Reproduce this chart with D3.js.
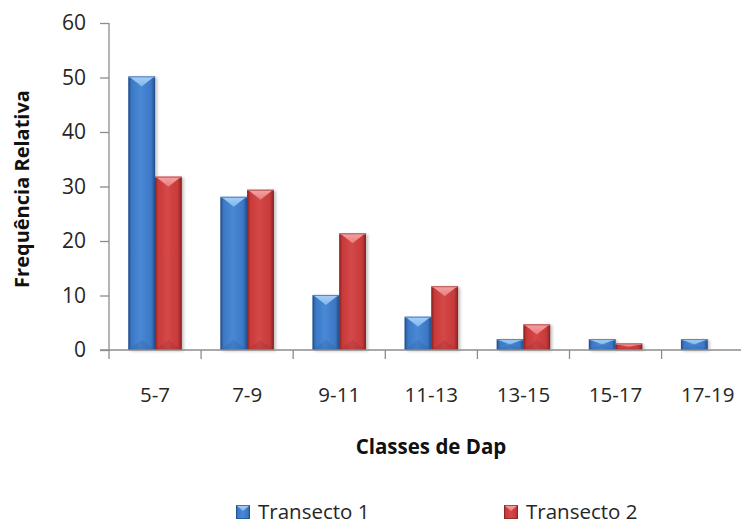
<!DOCTYPE html>
<html>
<head>
<meta charset="utf-8">
<script src="https://cdn.jsdelivr.net/npm/d3@7"></script>
<style>
  html, body { margin: 0; padding: 0; background: #fff; }
  svg { display: block; }
  text { font-family: "Open Sans", sans-serif; }
</style>
</head>
<body>
<svg id="chart" width="741" height="524"></svg>
<script>
// Diameter classes (Dap) and relative frequency for each transect
const categories = ["5-7", "7-9", "9-11", "11-13", "13-15", "15-17", "17-19"];
const seriesNames = ["Transecto 1", "Transecto 2"];
const transecto1 = [50.2, 28.1, 10.1, 6.1, 2.0, 2.0, 2.0];
const transecto2 = [31.8, 29.4, 21.4, 11.7, 4.7, 1.2, 0];
const yTicks = [0, 10, 20, 30, 40, 50, 60];

const seriesValues = [transecto1, transecto2];
const palette = {
  "Transecto 1": { dark: "#24508c", mid: "#3b78c6", light: "#4a88d4", top: "#7fb6ee", topEdge: "#a8d0f6" },
  "Transecto 2": { dark: "#8a2424", mid: "#c83a3a", light: "#d44848", top: "#ec7a7a", topEdge: "#f4a4a4" }
};

const svg = d3.select("#chart");
const defs = svg.append("defs");

// Horizontal gradients give the bars a rounded, bevelled face
seriesNames.forEach((s, i) => {
  const c = palette[s];
  const g = defs.append("linearGradient").attr("id", "face" + i)
    .attr("x1", "0").attr("x2", "1").attr("y1", "0").attr("y2", "0");
  g.append("stop").attr("offset", "0").attr("stop-color", c.dark);
  g.append("stop").attr("offset", "0.12").attr("stop-color", c.mid);
  g.append("stop").attr("offset", "0.45").attr("stop-color", c.light);
  g.append("stop").attr("offset", "0.85").attr("stop-color", c.mid);
  g.append("stop").attr("offset", "1").attr("stop-color", c.dark);
  const t = defs.append("linearGradient").attr("id", "top" + i)
    .attr("x1", "0").attr("x2", "0").attr("y1", "0").attr("y2", "1");
  t.append("stop").attr("offset", "0").attr("stop-color", c.topEdge);
  t.append("stop").attr("offset", "1").attr("stop-color", c.top);
});

const shadow = defs.append("filter").attr("id", "shadow")
  .attr("x", "-20%").attr("y", "-20%").attr("width", "150%").attr("height", "150%");
shadow.append("feDropShadow").attr("dx", 2).attr("dy", 1).attr("stdDeviation", 1.5)
  .attr("flood-color", "#000").attr("flood-opacity", 0.25);

// Scales: the plot area runs past the right edge of the canvas
const y = d3.scaleLinear().domain([0, 60]).range([350, 23]);
const x0 = d3.scaleBand().domain(categories).range([109, 753.7]).padding(0);
const x1 = d3.scaleBand().domain(seriesNames).range([0, x0.bandwidth()])
  .paddingInner(0).paddingOuter(0.725);

const axisColor = "#8c8c8c";

// Y axis
const yAxis = svg.append("g").attr("transform", "translate(109,0)")
  .call(d3.axisLeft(y).tickValues(yTicks).tickSize(9).tickPadding(14).tickSizeOuter(0));
yAxis.select(".domain").remove();
yAxis.append("line").attr("x1", 0).attr("x2", 0).attr("y1", y(60)).attr("y2", 359)
  .attr("stroke", axisColor).attr("stroke-width", 1.3);
yAxis.selectAll(".tick line").attr("stroke", axisColor).attr("stroke-width", 1.3);
yAxis.selectAll(".tick text").attr("fill", "#262626").attr("font-size", 21)
  .style("font-family", "'Open Sans', sans-serif");

// X axis with category boundary ticks
const xAxis = svg.append("g").attr("transform", "translate(0,350)");
xAxis.append("line").attr("x1", 100).attr("x2", 741).attr("y1", 0).attr("y2", 0)
  .attr("stroke", axisColor).attr("stroke-width", 1.6);
xAxis.selectAll("line.bound").data(categories.slice(1)).join("line")
  .attr("class", "bound")
  .attr("x1", d => x0(d)).attr("x2", d => x0(d)).attr("y1", 0).attr("y2", 9)
  .attr("stroke", axisColor).attr("stroke-width", 1.3);
xAxis.selectAll("text.cat").data(categories).join("text")
  .attr("class", "cat")
  .attr("x", d => x0(d) + x0.bandwidth() / 2).attr("y", 52)
  .attr("text-anchor", "middle").attr("font-size", 20.5).attr("fill", "#262626")
  .text(d => d);

// Bars
function drawBar(g, bx, by, w, h, i) {
  if (h <= 0) return;
  const b = Math.min(10, h / 2);
  g.append("rect").attr("x", bx).attr("y", by).attr("width", w).attr("height", h)
    .attr("fill", `url(#face${i})`).attr("filter", "url(#shadow)");
  g.append("polygon")
    .attr("points", [[bx, by], [bx + w, by], [bx + w - 2, by + 1], [bx + w / 2, by + b], [bx + 2, by + 1]].map(p => p.join(",")).join(" "))
    .attr("fill", `url(#top${i})`);
  g.append("rect").attr("x", bx).attr("y", by).attr("width", w).attr("height", 1.2)
    .attr("fill", palette[seriesNames[i]].topEdge);
  g.append("polygon")
    .attr("points", [[bx, by + h], [bx + w, by + h], [bx + w / 2, by + h - b]].map(p => p.join(",")).join(" "))
    .attr("fill", "#000").attr("opacity", 0.08);
  g.append("rect").attr("x", bx + 0.5).attr("y", by + 0.5).attr("width", w - 1).attr("height", h - 1)
    .attr("fill", "none").attr("stroke", palette[seriesNames[i]].dark).attr("stroke-opacity", 0.6);
}

const barLayer = svg.append("g");
categories.forEach((cat, ci) => {
  seriesNames.forEach((s, si) => {
    const v = seriesValues[si][ci];
    const bx = x0(cat) + x1(s);
    drawBar(barLayer, bx, y(v), x1.bandwidth(), y(0) - y(v), si);
  });
});
// Keep the baseline on top of the bar bottoms
xAxis.raise();

// Axis titles
svg.append("text").attr("x", 431).attr("y", 454).attr("text-anchor", "middle")
  .attr("font-size", 20.5).attr("font-weight", "bold").attr("fill", "#111")
  .text("Classes de Dap");
svg.append("text").attr("transform", "translate(29,189) rotate(-90)")
  .attr("text-anchor", "middle").attr("font-size", 20).attr("font-weight", "bold").attr("fill", "#111")
  .text("Frequência Relativa");

// Legend
const legendX = [236, 504];
const legend = svg.selectAll("g.legend").data(seriesNames).join("g")
  .attr("class", "legend")
  .attr("transform", (d, i) => `translate(${legendX[i]},505)`);
legend.each(function (d, i) {
  const g = d3.select(this);
  g.append("rect").attr("width", 14).attr("height", 14).attr("fill", `url(#face${i})`);
  g.append("polygon").attr("points", "0,0 14,0 7,6").attr("fill", `url(#top${i})`);
  g.append("rect").attr("x", 0.5).attr("y", 0.5).attr("width", 13).attr("height", 13)
    .attr("fill", "none").attr("stroke", palette[d].dark).attr("stroke-opacity", 0.7);
  g.append("text").attr("x", 22).attr("y", 14).attr("font-size", 20.5).attr("fill", "#262626").text(d);
});
</script>
</body>
</html>
